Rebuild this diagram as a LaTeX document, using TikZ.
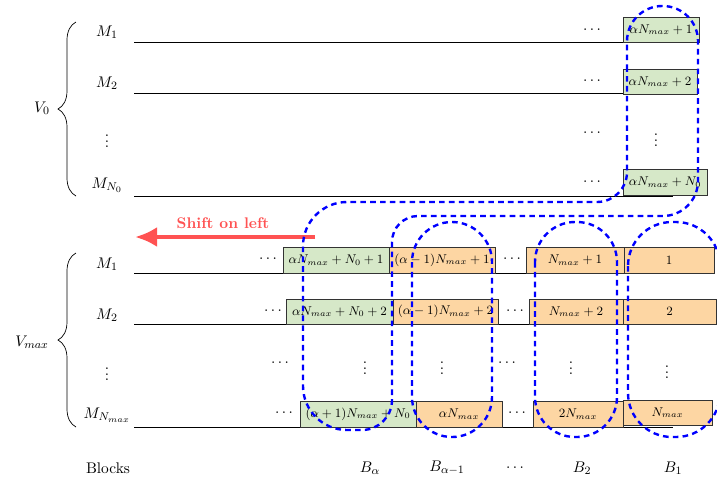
\documentclass[tikz,border=0pt,11pt]{standalone}
\usepackage{tikz}
\usetikzlibrary{calc,arrows.meta,decorations.pathreplacing}
\definecolor{blkgreen}{RGB}{214,232,200}
\definecolor{blkorange}{RGB}{253,214,163}
\definecolor{shiftred}{RGB}{255,82,82}
\tikzset{
	gblk/.style={draw=black!80, fill=blkgreen, line width=0.6pt},
	oblk/.style={draw=black!80, fill=blkorange, line width=0.6pt},
	blktxt/.style={font=\footnotesize, inner sep=0pt},
	dotsnd/.style={inner sep=0pt},
	rowline/.style={line width=0.6pt},
	loopdash/.style={blue, line width=1.7pt, dash pattern=on 4pt off 3pt},
	vbrace/.style={decorate, decoration={brace, amplitude=0.45cm}, line width=0.5pt},
	shiftarrow/.style={shiftred, line width=3.5pt, -{Latex[length=5.5mm,width=5mm]}},
}
\def\blk[#1](#2)(#3)(#4)#5{\draw[#1] (#3) rectangle (#4); \node[blktxt] (#2) at ($(#3)!0.5!(#4)$) {#5};}

\begin{document}
\begin{tikzpicture}[x=0.025cm, y=-0.025cm]
			%%%%% START %%%%%
			\useasboundingbox (0, 0) rectangle (717, 483);
			
			% V_0
			\node (v0) at (42, 108) {$V_0$};
			\draw[vbrace] (76, 196) -- (76, 22);
			\node (m1) at (107, 32) {$M_1$};
			\node (m2) at (107, 83) {$M_2$};
			\node[dotsnd] (mv) at (107, 137) {$\vdots$};
			\node (mn0) at (107, 185) {$M_{N_0}$};
			\draw[rowline] (134, 42) -- (673, 42);
			\draw[rowline] (134, 93) -- (623, 93);
			\draw[rowline] (134, 196) -- (673, 196);
			
			\node[dotsnd] (td1) at (592, 30) {$\cdots$};
			\node[dotsnd] (td2) at (592, 81) {$\cdots$};
			\node[dotsnd] (td3) at (592, 133) {$\cdots$};
			\node[dotsnd] (td4) at (592, 182) {$\cdots$};
			\blk[gblk](t1)(623,17)(699,42){$\alpha N_{max}+1$}
			\blk[gblk](t2)(623,69)(697,94){$\alpha N_{max}+2$}
			\node[dotsnd] (tv) at (656, 136) {$\vdots$};
			\blk[gblk](t3)(623,169)(707,195){$\alpha N_{max}+N_0$}
			
			% V_max
			\node (vmax) at (32, 342) {$V_{max}$};
			\draw[vbrace] (76, 427) -- (76, 253);
			\node (k1) at (107, 264) {$M_1$};
			\node (k2) at (107, 315) {$M_2$};
			\node[dotsnd] (kv) at (107, 370) {$\vdots$};
			\node (kn) at (107, 415) {$M_{N_{max}}$};
			\draw[rowline] (134, 273) -- (714, 273);
			\draw[rowline] (134, 324) -- (716, 324);
			\draw[rowline] (134, 427) -- (673, 427);
			
			\node[dotsnd] (ld1) at (268, 259) {$\cdots$};
			\node[dotsnd] (ld2) at (273, 311) {$\cdots$};
			\node[dotsnd] (ld3) at (280, 363) {$\cdots$};
			\node[dotsnd] (ld4) at (284, 413) {$\cdots$};
			\node[dotsnd] (md1) at (512, 259) {$\cdots$};
			\node[dotsnd] (md2) at (515, 311) {$\cdots$};
			\node[dotsnd] (md3) at (507, 363) {$\cdots$};
			\node[dotsnd] (md4) at (517, 413) {$\cdots$};
			
			\blk[gblk](a1)(283,247)(389,273){$\alpha N_{max}+N_0+1$}
			\blk[oblk](b1)(389,247)(495,273){$(\alpha-1)N_{max}+1$}
			\blk[oblk](c1)(526,247)(624,273){$N_{max}+1$}
			\blk[oblk](d1)(624,247)(714,273){$1$}
			
			\blk[gblk](a2)(286,299)(393,324){$\alpha N_{max}+N_0+2$}
			\blk[oblk](b2)(393,299)(498,324){$(\alpha-1)N_{max}+2$}
			\blk[oblk](c2)(529,299)(623,324){$N_{max}+2$}
			\blk[oblk](d2)(623,299)(716,324){$2$}
			
			\node[dotsnd] (av) at (365, 364) {$\vdots$};
			\node[dotsnd] (bv) at (442, 364) {$\vdots$};
			\node[dotsnd] (cv) at (571, 364) {$\vdots$};
			\node[dotsnd] (dv) at (667, 368) {$\vdots$};
			
			\blk[gblk](a3)(300,401)(416,427){$(\alpha+1)N_{max}+N_0$}
			\blk[oblk](b3)(416,401)(502,427){$\alpha N_{max}$}
			\blk[oblk](c3)(533,401)(623,427){$2N_{max}$}
			\blk[oblk](d3)(623,400)(712,425){$N_{max}$}
			
			% blocks
			\node (blocks) at (108, 468) {Blocks};
			\node (balpha) at (370, 468) {$B_\alpha$};
			\node (balpha1) at (447, 468) {$B_{\alpha-1}$};
			\node[dotsnd] (bdots) at (515, 468) {$\cdots$};
			\node (b2) at (582, 468) {$B_2$};
			\node (b1) at (673, 468) {$B_1$};
			
			% shift
			\coordinate (shiftS) at (315, 237);
			\coordinate (shiftE) at (135, 237);
			\draw[shiftarrow] (shiftS) -- (shiftE);
			\node[shiftred, font=\bfseries, inner sep=1pt] (shiftlbl) at (223, 223) {Shift on left};
			
			% loops
			\draw[loopdash] (627, 100) [rounded corners=0.88cm] -- (627, 6) -- (698, 6) -- (698, 216) [rounded corners=0.65cm] -- (392, 216) [rounded corners=0.75cm] -- (392, 430) [rounded corners=1.1cm] -- (303, 430) -- (303, 202) [rounded corners=0.75cm] -- (627, 202) -- cycle;
			\draw[loopdash, rounded corners=1cm] (412, 222) rectangle (492, 437);
			\draw[loopdash, rounded corners=1cm] (535, 222) rectangle (617, 437);
			\draw[loopdash, rounded corners=1.1cm] (628, 222) rectangle (720, 437);
			%%%%% END %%%%%
		\end{tikzpicture}
\end{document}
